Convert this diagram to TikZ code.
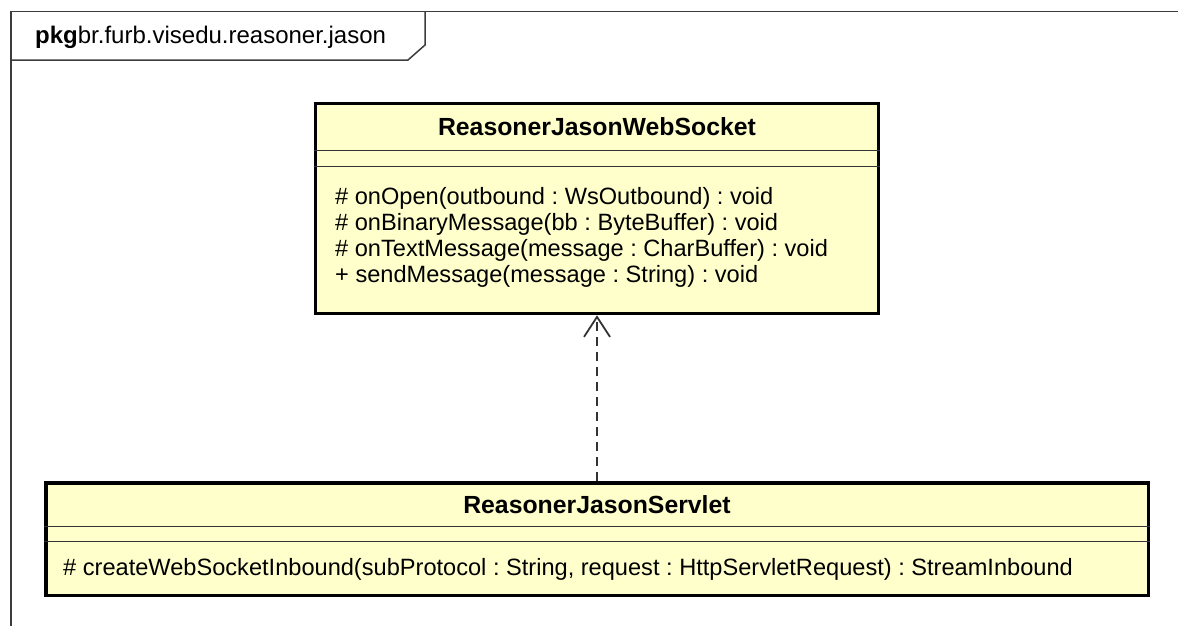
\documentclass[tikz,border=0pt]{standalone}
\usepackage{fontspec}
\setmainfont{Liberation Sans}
\usetikzlibrary{arrows.meta,positioning}
\definecolor{classfill}{HTML}{FFFFCC}
\definecolor{frameline}{HTML}{3C3C3C}
\frenchspacing
\begin{document}
\begin{tikzpicture}[x=1pt,y=-1pt,
  classbox/.style={draw=black,line width=3.5pt,fill=classfill,inner sep=0pt},
  classname/.style={font=\fontsize{24.8}{28}\selectfont\bfseries,inner sep=0pt},
  opslist/.style={font=\fontsize{23.6}{26}\selectfont,align=left,inner sep=0pt,anchor=north west},
  divider/.style={draw=black!80,line width=1.5pt},
  realize/.style={draw=black!80,line width=1.8pt,dash pattern=on 9pt off 6pt,-{Straight Barb[length=20pt,width=26pt]}}]
  \useasboundingbox (0,0) rectangle (1178,625);
  % package frame
  \draw[frameline,line width=1.5pt] (11,11.5) rectangle (1200,650);
  \draw[frameline,line width=1.5pt] (425,11.5) -- (425,45) -- (408,60) -- (11,60);
  \node[anchor=base west,inner sep=0pt,font=\fontsize{24}{26}\selectfont] (pkg) at (35,43) {\textbf{pkg}br.furb.visedu.reasoner.jason};
  % ReasonerJasonWebSocket
  \node[classbox,minimum width=563pt,minimum height=210pt] (ws) at (597,208.5) {};
  \draw[divider] ([yshift=-48.5pt]ws.north west) -- ([yshift=-48.5pt]ws.north east);
  \draw[divider] ([yshift=-64.5pt]ws.north west) -- ([yshift=-64.5pt]ws.north east);
  \node[classname] (wsname) at (597,127) {ReasonerJasonWebSocket};
  \node[opslist] (wsops) at (335,187) {\# onOpen(outbound : WsOutbound) : void\\
    \# onBinaryMessage(bb : ByteBuffer) : void\\
    \# onTextMessage(message : CharBuffer) : void\\
    + sendMessage(message : String) : void};
  % ReasonerJasonServlet
  \node[classbox,minimum width=1102.5pt,minimum height=112.5pt] (srv) at (597,539) {};
  \draw[divider] ([yshift=-45.25pt]srv.north west) -- ([yshift=-45.25pt]srv.north east);
  \draw[divider] ([yshift=-60.25pt]srv.north west) -- ([yshift=-60.25pt]srv.north east);
  \node[classname] (srvname) at (597,505) {ReasonerJasonServlet};
  \node[opslist] (srvops) at (63,558) {\# createWebSocketInbound(subProtocol : String, request : HttpServletRequest) : StreamInbound};
  % realization
  \draw[realize] (srv.north) -- (ws.south);
\end{tikzpicture}
\end{document}
